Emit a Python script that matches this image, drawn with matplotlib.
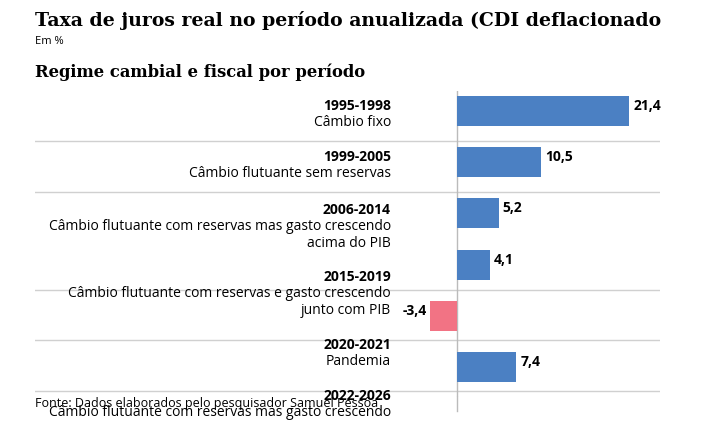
import matplotlib
matplotlib.use("Agg")
import matplotlib.pyplot as plt

years = ["1995-1998", "1999-2005", "2006-2014", "2015-2019", "", "2020-2021", "2022-2026"]
descs = [["Câmbio fixo"], ["Câmbio flutuante sem reservas"],
         ["Câmbio flutuante com reservas mas gasto crescendo", "acima do PIB"],
         ["Câmbio flutuante com reservas e gasto crescendo", "junto com PIB"],
         [], ["Pandemia"], ["Câmbio flutuante com reservas mas gasto crescendo"]]
values = [21.4, 10.5, 5.2, 4.1, -3.4, 7.4, 6.0]
value_labels = ["21,4", "10,5", "5,2", "4,1", "-3,4", "7,4", ""]
label_tops = [106, 157, 210, 277, None, 345, 396]
sep_lines = [142, 193, 291, 341, 392]

fig = plt.figure(figsize=(7.23, 4.27), dpi=100)
W, H = 723, 427
ax = fig.add_axes([35 / W, (427 - 398) / H, (660 - 35) / W, (398 - 92) / H])
ppu = 8.04
ax.set_xlim(-(457 - 35) / ppu, (660 - 457) / ppu)
ax.set_ylim(398, 92)
ax.axis("off")

centers = [112 + i * 51.2 for i in range(len(values))]
colors = ["#4b80c3" if v >= 0 else "#f27384" for v in values]
ax.barh(centers, values, height=30, color=colors, zorder=3)
for y in sep_lines:
    ax.axhline(y, color="#d0d0d0", lw=1, zorder=1)
ax.plot([0, 0], [92, 398], color="#bbbbbb", lw=1, zorder=2)
fig.add_artist(plt.Line2D([457 / W, 457 / W], [(427 - 412) / H, (427 - 398) / H], color="#bbbbbb", lw=1))

font = "Open Sans"
fs = 10
for c, v, lab in zip(centers, values, value_labels):
    if not lab:
        continue
    if v >= 0:
        ax.text(v + 0.5, c - 6, lab, ha="left", va="center", fontsize=fs, fontweight="bold", family=font)
    else:
        ax.text(v - 0.4, c - 6, lab, ha="right", va="center", fontsize=fs, fontweight="bold", family=font)

xr = -(457 - 391) / ppu
for yr, ds, top in zip(years, descs, label_tops):
    if top is None:
        continue
    ax.text(xr, top, yr, ha="right", va="center", fontsize=fs, fontweight="bold", family=font, clip_on=False)
    for k, d in enumerate(ds):
        ax.text(xr, top + 17 * (k + 1), d, ha="right", va="center", fontsize=fs, family=font, clip_on=False)

fig.text(35 / W, 1 - 20 / H, "Taxa de juros real no período anualizada (CDI deflacionado",
         fontsize=13.6, fontweight="bold", family="DejaVu Serif", va="center")
fig.text(35 / W, 1 - 42 / H, "Em %", fontsize=8, family=font, va="center")
fig.text(35 / W, 1 - 72 / H, "Regime cambial e fiscal por período",
         fontsize=11.8, fontweight="bold", family="DejaVu Serif", va="center")
fig.text(35 / W, 1 - 404 / H, "Fonte: Dados elaborados pelo pesquisador Samuel Pessôa",
         fontsize=9, family=font, va="center")
fig.savefig("out.png", dpi=100)
